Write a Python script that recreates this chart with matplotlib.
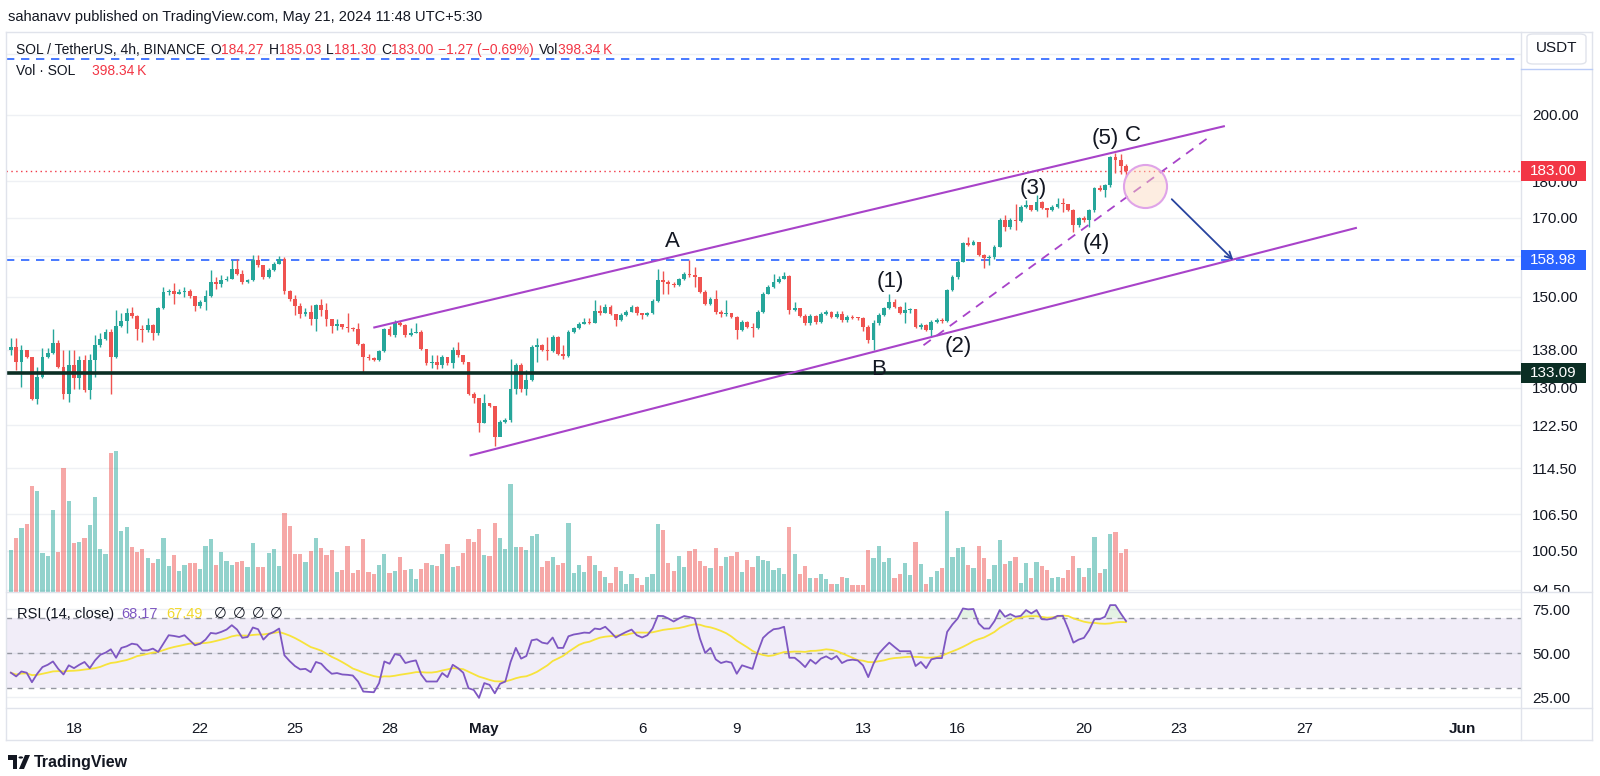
import numpy as np
import pandas as pd
import matplotlib
matplotlib.use("Agg")
import matplotlib.pyplot as plt
from matplotlib.patches import Rectangle, FancyBboxPatch, Polygon, Circle
from matplotlib.lines import Line2D
from matplotlib.ticker import NullLocator

plt.rcParams['font.family'] = ['Liberation Sans', 'DejaVu Sans']

# SOL / USDT, 4h bars (Binance), first bar = 16 Apr 01:30 IST
first_open = 138.0
closes = [138.7, 135.4, 138.0, 136.4, 127.6, 132.3, 136.4, 137.4, 139.4, 134.4,
          128.7, 134.8, 132.0, 135.7, 129.5, 135.8, 139.0, 140.3, 142.0, 136.5,
          143.2, 144.5, 146.3, 145.5, 142.5, 142.4, 143.5, 141.6, 147.3, 151.2,
          151.3, 150.7, 151.2, 151.5, 150.2, 147.8, 148.8, 150.2, 153.6, 153.2,
          154.0, 154.4, 156.8, 155.5, 153.6, 154.0, 159.0, 157.7, 154.8, 156.4,
          158.1, 159.3, 151.4, 149.6, 147.8, 146.0, 146.5, 144.8, 148.1, 146.9,
          144.8, 143.2, 143.7, 143.0, 142.8, 142.6, 139.3, 136.4, 136.2, 135.9,
          137.8, 142.5, 141.3, 144.0, 143.5, 141.3, 141.8, 142.0, 138.1, 135.1,
          135.3, 134.7, 136.5, 135.1, 138.0, 136.9, 135.3, 128.8, 127.9, 123.0,
          126.8, 126.3, 120.3, 123.2, 123.5, 129.8, 134.8, 129.8, 131.6, 138.7,
          139.0, 138.0, 137.8, 140.9, 137.2, 136.6, 142.0, 142.8, 143.7, 144.3,
          144.0, 146.8, 146.3, 147.7, 146.0, 144.6, 145.8, 146.5, 147.7, 146.2,
          145.8, 146.2, 149.0, 154.0, 153.6, 153.2, 152.8, 154.2, 155.6, 155.2,
          154.8, 151.2, 148.3, 149.4, 146.5, 146.0, 146.3, 145.4, 142.4, 144.2,
          143.1, 142.9, 146.5, 150.8, 152.4, 153.6, 154.4, 155.0, 146.9, 147.3,
          145.6, 143.9, 145.6, 144.1, 146.0, 146.4, 145.3, 146.1, 144.6, 145.4,
          145.2, 145.0, 143.1, 140.1, 143.9, 145.8, 147.3, 148.9, 147.7, 146.3,
          146.9, 147.1, 143.0, 143.5, 142.4, 144.2, 144.6, 144.4, 151.6, 154.8,
          158.6, 163.2, 162.8, 163.5, 160.2, 159.4, 159.8, 162.4, 169.4, 167.5,
          169.4, 169.0, 172.9, 173.3, 172.1, 174.2, 172.5, 172.0, 172.9, 173.8,
          173.6, 172.0, 168.0, 169.8, 169.3, 172.0, 178.0, 177.6, 178.9, 187.0,
          186.3, 184.27, 183.00]
highs = [140.5, 140.5, 139.0, 138.0, 136.4, 134.4, 138.3, 138.3, 142.7, 140.2,
         138.0, 138.0, 138.0, 136.6, 136.8, 137.2, 141.2, 141.6, 142.5, 142.5,
         146.9, 146.2, 147.3, 147.7, 145.8, 143.5, 145.0, 143.7, 147.7, 152.4,
         152.0, 153.4, 152.0, 152.4, 151.8, 150.2, 149.2, 151.6, 156.4, 154.8,
         155.2, 155.0, 158.9, 159.3, 156.4, 154.4, 160.3, 160.3, 157.7, 157.0,
         158.5, 160.0, 159.7, 151.6, 150.4, 148.5, 147.5, 148.1, 148.3, 149.5,
         148.5, 144.9, 144.8, 143.7, 146.2, 143.0, 143.9, 139.4, 137.2, 136.5,
         138.0, 142.9, 143.3, 144.6, 144.4, 143.8, 142.8, 144.0, 142.4, 138.1,
         136.8, 136.8, 136.8, 136.5, 138.7, 139.7, 136.9, 135.3, 129.1, 127.9,
         128.8, 126.9, 126.3, 123.5, 124.0, 136.0, 135.1, 135.1, 133.7, 139.0,
         140.5, 139.2, 140.9, 141.3, 141.1, 139.0, 142.4, 143.1, 144.2, 145.0,
         145.0, 149.3, 148.0, 148.3, 148.0, 146.1, 146.3, 147.0, 148.1, 147.9,
         146.3, 146.5, 149.4, 156.8, 156.2, 154.0, 153.6, 154.6, 156.0, 159.1,
         157.3, 154.9, 151.6, 150.0, 151.6, 146.9, 149.3, 146.3, 145.6, 144.6,
         144.4, 143.9, 146.9, 151.2, 152.8, 155.6, 155.0, 156.0, 155.2, 148.8,
         147.4, 146.0, 146.0, 145.9, 146.4, 147.0, 146.6, 146.6, 146.6, 145.8,
         145.8, 145.4, 145.4, 143.5, 144.6, 146.2, 147.7, 150.8, 149.4, 147.9,
         148.9, 147.5, 147.2, 144.0, 143.8, 144.7, 145.1, 145.0, 152.0, 155.2,
         159.0, 163.6, 164.8, 164.2, 163.6, 160.4, 160.2, 162.8, 169.8, 170.7,
         170.0, 173.7, 173.3, 174.7, 173.5, 176.1, 174.4, 172.6, 173.3, 175.2,
         175.2, 173.7, 172.2, 170.2, 170.4, 172.4, 178.4, 178.9, 179.3, 187.4,
         188.3, 188.0, 185.03]
lows = [136.9, 133.7, 130.2, 136.2, 127.5, 126.7, 132.1, 136.2, 137.2, 134.0,
        127.8, 127.1, 129.8, 129.8, 129.2, 127.8, 132.3, 138.7, 140.1, 128.7,
        136.2, 143.0, 141.6, 145.0, 140.1, 139.8, 142.0, 140.1, 141.3, 147.1,
        150.5, 148.4, 150.6, 150.0, 149.8, 146.8, 147.5, 146.9, 150.0, 152.0,
        152.4, 153.8, 154.2, 155.3, 153.2, 153.4, 153.8, 157.3, 154.4, 154.6,
        156.3, 158.0, 150.8, 149.0, 145.8, 145.0, 145.5, 143.5, 142.2, 145.5,
        143.2, 141.8, 142.4, 142.5, 142.0, 142.2, 139.1, 133.1, 135.8, 135.6,
        135.6, 137.6, 141.0, 140.9, 143.3, 140.9, 141.1, 141.6, 137.9, 134.8,
        134.0, 133.8, 134.0, 134.8, 134.0, 136.5, 135.0, 128.5, 126.8, 121.3,
        122.9, 126.0, 118.5, 120.5, 122.9, 123.2, 128.8, 129.2, 128.5, 131.3,
        135.4, 137.8, 135.8, 137.6, 136.8, 136.1, 136.4, 141.7, 142.6, 143.8,
        143.7, 143.9, 145.8, 146.2, 145.8, 143.2, 144.4, 145.6, 146.4, 145.9,
        144.9, 145.6, 146.0, 148.8, 150.8, 150.8, 152.4, 152.6, 154.0, 154.8,
        152.4, 150.9, 148.0, 148.1, 146.0, 145.4, 145.5, 145.2, 140.3, 142.1,
        142.9, 140.9, 142.6, 146.3, 150.6, 152.2, 153.4, 154.2, 146.0, 146.6,
        145.3, 143.5, 143.5, 143.8, 143.9, 145.8, 145.0, 145.1, 144.2, 144.3,
        144.8, 144.6, 142.2, 139.4, 138.0, 143.6, 145.6, 147.1, 147.4, 146.0,
        143.9, 146.3, 142.8, 142.6, 142.1, 141.0, 143.9, 144.0, 144.2, 151.3,
        154.4, 158.4, 162.5, 162.8, 159.9, 157.0, 157.8, 159.2, 162.2, 166.4,
        167.0, 166.6, 168.8, 172.6, 171.7, 171.8, 172.2, 170.1, 171.8, 172.6,
        171.6, 171.7, 166.2, 167.5, 168.7, 167.5, 171.6, 177.2, 175.6, 178.5,
        182.4, 182.0, 181.30]
volumes_k = [389, 503, 590, 633, 982, 935, 358, 336, 756, 374,
             1145, 843, 457, 463, 497, 617, 883, 398, 349, 1290,
             1306, 568, 599, 420, 370, 398, 315, 272, 306, 497,
             244, 343, 194, 253, 265, 272, 216, 429, 488, 250,
             370, 287, 247, 281, 290, 228, 451, 235, 235, 358,
             395, 241, 728, 611, 352, 349, 281, 377, 497, 404,
             343, 389, 182, 204, 426, 179, 201, 491, 182, 164,
             253, 349, 173, 198, 321, 204, 210, 120, 210, 265,
             253, 244, 349, 444, 228, 244, 364, 491, 463, 583,
             343, 336, 639, 497, 395, 997, 414, 414, 389, 519,
             540, 228, 290, 321, 250,
             265, 636, 173, 253, 185, 330, 247, 194, 139, 85,
             235, 198, 75, 164, 133, 65, 142, 170, 633, 574,
             272, 191, 336, 232, 380, 395, 287, 241, 222, 407,
             241, 321, 330, 374, 182, 299, 232, 336, 296, 290,
             204, 222, 170, 605, 352, 170, 241, 133, 133, 170,
             117, 74, 74, 139, 127, 65, 65, 65, 389, 312,
             423, 275, 312, 133, 170, 272, 154, 463, 262, 74,
             139, 198, 222, 750, 321, 404, 420, 253, 222, 423,
             315, 120, 250, 482, 259, 290, 321, 83, 265, 133,
             275, 238, 204, 127, 139, 127, 201, 330, 222, 142,
             222, 512, 180, 210, 540, 560, 360, 398.34]
rsi = [38.8, 36.7, 39.5, 38.8, 33.4, 38.2, 42.0, 43.3, 45.2, 41.0,
       37.8, 43.0, 41.4, 43.3, 44.9, 41.4, 45.8, 49.0, 50.2, 52.1,
       47.3, 52.9, 53.8, 55.3, 54.8, 51.5, 51.5, 52.5, 50.6, 55.3,
       60.1, 59.7, 59.1, 60.1, 57.2, 54.4, 55.3, 57.6, 61.4, 61.0,
       62.0, 63.3, 65.8, 63.3, 58.6, 59.1, 64.5, 63.5, 57.6, 60.7,
       62.0, 63.9, 48.7, 45.4, 42.6, 40.7, 41.0, 39.1, 44.9, 43.9,
       40.7, 38.2, 38.6, 37.8, 37.6, 37.2, 33.8, 28.1, 27.9, 27.7,
       32.9, 45.2, 43.9, 49.4, 48.7, 44.3, 45.2, 45.8, 37.8, 33.8,
       33.8, 33.8, 38.6, 36.3, 43.3, 41.4, 38.8, 30.0, 29.0, 24.5,
       32.9, 31.9, 27.1, 32.5, 33.8, 44.9, 52.9, 46.8, 48.3, 57.2,
       57.8, 55.9, 55.3, 58.8, 52.9,
       52.9, 59.5, 60.5, 61.0, 61.6, 61.4, 63.9, 63.5, 64.9, 62.0,
       58.8, 60.5, 62.0, 63.3, 60.1, 58.8, 60.1, 63.9, 71.1, 71.0,
       69.6, 67.9, 69.6, 71.0, 70.4, 69.6, 58.2, 50.0, 52.9, 46.4,
       44.3, 45.2, 44.5, 38.2, 43.0, 42.0, 41.0, 50.6, 58.6, 61.4,
       63.5, 63.9, 64.9, 47.3, 47.3, 44.9, 42.0, 46.2, 43.9, 46.8,
       48.1, 46.4, 48.3, 44.3, 45.8, 46.2, 45.8, 43.0, 36.3, 43.9,
       49.6, 52.9, 55.9, 53.4, 51.0, 51.0, 51.0, 42.6, 44.9, 41.4,
       46.4, 47.1, 47.1, 62.0, 66.2, 69.6, 75.3, 74.8, 75.0, 66.8,
       63.9, 63.9, 68.1, 74.4, 70.6, 72.1, 70.6, 71.1, 74.4, 72.5,
       74.4, 69.2, 69.0, 69.6, 71.1, 71.1, 63.9, 55.9, 57.6, 58.6,
       63.0, 69.2, 69.2, 70.6, 77.2, 77.2, 72.5, 68.17]

# axis ticks
day_ticks = ['2024-04-18', '2024-04-22', '2024-04-25', '2024-04-28', '2024-05-01', '2024-05-06',
             '2024-05-09', '2024-05-13', '2024-05-16', '2024-05-20', '2024-05-23', '2024-05-27',
             '2024-06-01']
day_labels = ['18', '22', '25', '28', 'May', '6', '9', '13', '16', '20', '23', '27', 'Jun']
price_ticks = [220, 200, 180, 170, 160, 150, 138, 130, 122.5, 114.5, 106.5, 100.5, 94.5]
rsi_ticks = [75, 50, 25]

# levels and drawings (bar number, price)
level_top = 218.2
level_mid = 158.98
level_support = 133.09
channel_top = [(56.9, 142.9), (218.8, 196.4)]
channel_bottom = [(75.2, 116.8), (243.9, 167.3)]
wave_line = [(161.5, 139.0), (216.3, 193.6)]
arrow_from, arrow_to = (208.7, 175.0), (220.4, 159.0)
circle_at = (203.6, 178.7)
wave_labels = [('A', 113.8, 163.6), ('B', 152.9, 133.7), ('C', 201.4, 193.6), ('(5)', 196.0, 192.6),
               ('(1)', 155.1, 153.6), ('(2)', 168.1, 138.7), ('(3)', 182.3, 178.0), ('(4)', 194.3, 163.1)]

W, H = 1600, 776
DARK = '#131722'
GREEN = '#26A69A'
RED = '#EF5350'
TXT_RED = '#F23645'
PURPLE = '#A843C9'
BORDER = '#E0E3EB'
GRID = '#EEF0F4'


def fr(x0, y0, x1, y1):
    """pixel box (top-left origin) -> figure rect"""
    return [x0 / W, 1 - y1 / H, (x1 - x0) / W, (y1 - y0) / H]


fig = plt.figure(figsize=(16, 7.76), dpi=100)
ax = fig.add_axes(fr(6, 32, 1521, 592), zorder=1)
axv = fig.add_axes(fr(6, 32, 1521, 592), zorder=1.2)
axr = fig.add_axes(fr(6, 592, 1521, 708), zorder=2)

closes = np.array(closes)
highs = np.array(highs)
lows = np.array(lows)
opens = np.r_[first_open, closes[:-1]]  # each bar opens at the previous close
x = np.arange(len(closes)) - 12
up = closes >= opens
colors = np.where(up, GREEN, RED)

# time axis positions: bar number of the first bar of each labelled day
times = pd.date_range('2024-04-16 01:30', periods=320, freq='4h')
tick_pos = [int(np.argmax(times >= pd.Timestamp(d))) - 12 for d in day_ticks]

xlim = (-12.93, 275.1)

# ---- main price pane ----
ax.set_yscale('log')
ax.set_xlim(*xlim)
ax.set_ylim(94.19, 227.8)
ax.vlines(x, lows, highs, colors=colors, lw=1.0, zorder=3)
body_lo = np.minimum(opens, closes)
body_h = np.maximum(np.abs(closes - opens), body_lo * 0.0015)
ax.bar(x, body_h, bottom=body_lo, width=0.72, color=colors, lw=0, zorder=4)

ax.set_yticks(price_ticks)
ax.set_yticklabels(['' if v == 220 else f'{v:.2f}' for v in price_ticks])
ax.yaxis.set_minor_locator(NullLocator())
ax.yaxis.tick_right()
ax.tick_params(axis='y', which='both', length=0, pad=8, labelsize=11, labelcolor=DARK)
ax.set_xticks([])
ax.yaxis.grid(True, color=GRID, lw=1)
ax.set_axisbelow(True)
for s in ax.spines.values():
    s.set_visible(False)

ax.axhline(level_top, color='#2962FF', lw=1.2, ls=(0, (5, 4)), zorder=2)
ax.axhline(level_mid, color='#2962FF', lw=1.2, ls=(0, (5, 4)), zorder=2)
ax.axhline(closes[-1], color=TXT_RED, lw=1.0, ls=(0, (1, 2.5)), zorder=2)
ax.axhline(level_support, color='#0B2E24', lw=2.6, zorder=5)

for (x0, y0), (x1, y1) in [channel_top, channel_bottom]:
    ax.plot([x0, x1], [y0, y1], color=PURPLE, lw=1.5, zorder=6, solid_capstyle='butt')
ax.plot([wave_line[0][0], wave_line[1][0]], [wave_line[0][1], wave_line[1][1]],
        color=PURPLE, lw=1.3, ls=(0, (5, 4)), zorder=6)
ax.plot(*circle_at, 'o', ms=31, mfc=(0.99, 0.85, 0.74, 0.45), mec='#DFA3E8', mew=1.5, zorder=7)
ax.annotate('', xy=arrow_to, xytext=arrow_from,
            arrowprops=dict(arrowstyle='->', color='#27439E', lw=1.3, shrinkA=0, shrinkB=0,
                            mutation_scale=12), zorder=7)
for t, bx, py in wave_labels:
    ax.text(bx, py, t, fontsize=16, color=DARK, ha='center', va='center', zorder=8)

# ---- volume overlay ----
axv.set_xlim(*xlim)
axv.set_ylim(0, 5186)
axv.bar(x, volumes_k, width=0.8, color=colors, alpha=0.5, lw=0)
axv.axis('off')
axv.patch.set_visible(False)

# ---- RSI pane ----
rsi = np.array(rsi)
rsi_ma = pd.Series(rsi).rolling(14, min_periods=1).mean().values
axr.set_xlim(*xlim)
axr.set_ylim(18.75, 84.66)
axr.axhspan(30, 70, color='#7E57C2', alpha=0.1, lw=0)
axr.set_yticks(rsi_ticks)
axr.set_yticklabels([f'{v:.2f}' for v in rsi_ticks])
axr.yaxis.tick_right()
axr.yaxis.grid(True, color=GRID, lw=1)
axr.set_axisbelow(True)
axr.tick_params(axis='y', length=0, pad=8, labelsize=11, labelcolor=DARK)
for v in (70, 50, 30):
    axr.axhline(v, color='#9598A1', lw=1.0, ls=(0, (4, 4)))
axr.fill_between(x, 70, rsi, where=rsi > 70, interpolate=True, color='#4CAF50', alpha=0.15, lw=0)
axr.plot(x, rsi_ma, color='#F7E33B', lw=1.3)
axr.plot(x, rsi, color='#7E57C2', lw=1.3)
axr.set_xticks(tick_pos)
axr.set_xticklabels(day_labels)
axr.tick_params(axis='x', length=0, pad=10, labelsize=11, labelcolor=DARK)
for lab in axr.get_xticklabels():
    if lab.get_text() in ('May', 'Jun'):
        lab.set_fontweight('bold')
for s in axr.spines.values():
    s.set_visible(False)

# cover price labels that spill below the price pane
fig.add_artist(Rectangle((1522 / W, 1 - 708 / H), 69 / W, 116 / H, transform=fig.transFigure,
                         fc='white', ec='none', zorder=1.5))


# ---- frame lines ----
def line_px(xs, ys, color=BORDER, lw=1.0, z=4):
    fig.add_artist(Line2D([v / W for v in xs], [1 - v / H for v in ys], transform=fig.transFigure,
                          color=color, lw=lw, zorder=z))


line_px([6, 1592], [32, 32])
line_px([6, 1592], [740, 740])
line_px([6, 6], [32, 740])
line_px([1592, 1592], [32, 740])
line_px([1521, 1521], [32, 740])
line_px([6, 1592], [592, 592])
line_px([6, 1592], [708, 708])
line_px([1521, 1592], [69, 69], color='#B9CBF7')

# USDT button
fig.add_artist(FancyBboxPatch((1527 / W, 1 - 64 / H), 59 / W, 30 / H, transform=fig.transFigure,
                              boxstyle='round,pad=0,rounding_size=0.004', fc='white', ec=BORDER,
                              lw=1, zorder=4))
fig.text(1556.5 / W, 1 - 48.5 / H, 'USDT', fontsize=11, color=DARK, ha='center', va='center', zorder=5)


# price label boxes on the right scale
def price_box(axis, value, text, face):
    yf = axis.transData.transform((0, value))[1] / fig.bbox.height
    h = 20 / H
    fig.add_artist(Rectangle((1521 / W, yf - h / 2), 65 / W, h, transform=fig.transFigure,
                             fc=face, ec='none', zorder=5))
    fig.text(1553.5 / W, yf, text, color='white', fontsize=11, ha='center', va='center', zorder=6)


price_box(ax, closes[-1], f'{closes[-1]:.2f}', TXT_RED)
price_box(ax, level_mid, f'{level_mid:.2f}', '#2962FF')
price_box(ax, level_support, f'{level_support:.2f}', '#0B2E24')

# ---- header / legends ----
fig.text(8 / W, 1 - 17 / H, 'sahanavv published on TradingView.com, May 21, 2024 11:48 UTC+5:30',
         fontsize=10.5, color=DARK, va='center')

renderer = fig.canvas.get_renderer()


def put_run(groups, x_start, x_end, y_px, size):
    """place groups of (text, colour) pieces left to right, spreading the gaps to fill x_start..x_end"""
    arts, widths = [], []
    for grp in groups:
        row = []
        for t, c in grp:
            a = fig.text(0, 1 - y_px / H, t, fontsize=size, color=c, va='center', zorder=6)
            row.append((a, a.get_window_extent(renderer).width))
        arts.append(row)
        widths.append(sum(w for _, w in row))
    gap = max(5.0, (x_end - x_start - sum(widths)) / max(1, len(groups) - 1))
    cur = x_start
    for row in arts:
        for a, w in row:
            a.set_x(cur / W)
            cur += w
        cur += gap


chg = closes[-1] - opens[-1]
minus = lambda s: s.replace('-', '\u2212')
put_run([[('SOL / TetherUS, 4h, BINANCE', DARK)],
         [('O', DARK), (f'{opens[-1]:.2f}', TXT_RED)],
         [('H', DARK), (f'{highs[-1]:.2f}', TXT_RED)],
         [('L', DARK), (f'{lows[-1]:.2f}', TXT_RED)],
         [('C', DARK), (f'{closes[-1]:.2f}', TXT_RED)],
         [(minus(f'{chg:.2f} ({chg / opens[-1] * 100:.2f}%)'), TXT_RED)],
         [('Vol', DARK), (f'{volumes_k[-1]:.2f}\u2009K', TXT_RED)]],
        16, 598, 50, 10)
put_run([[('Vol \u00b7 SOL', DARK)], [(f'{volumes_k[-1]:.2f}\u2009K', TXT_RED)]], 16, 146, 71, 10)

rsi_items = [(17, 'RSI (14, close)', DARK), (121, f'{rsi[-1]:.2f}', '#7E57C2'), (166, '67.49', '#F2D92E'),
             (214, '\u2205', DARK), (233, '\u2205', DARK), (252, '\u2205', DARK), (270, '\u2205', DARK)]
for px, t, c in rsi_items:
    fig.text(px / W, 1 - 614 / H, t, fontsize=10.5, color=c, va='center', zorder=6)


# ---- footer logo ----
def pts(seq):
    return [(a / W, 1 - b / H) for a, b in seq]


fig.add_artist(Polygon(pts([(8, 755), (17, 755), (17, 769), (13, 769), (13, 759.5), (8, 759.5)]),
                       closed=True, transform=fig.transFigure, fc=DARK, ec='none'))
fig.add_artist(Circle((20.8 / W, 1 - 757.5 / H), 2.3 / W, transform=fig.transFigure, fc=DARK, ec='none'))
fig.add_artist(Polygon(pts([(19, 769), (25, 755), (30, 755), (24, 769)]), closed=True,
                       transform=fig.transFigure, fc=DARK, ec='none'))
fig.text(34 / W, 1 - 762 / H, 'TradingView', fontsize=11.5, fontweight='bold', color=DARK, va='center')

fig.savefig('out.png', dpi=100)
